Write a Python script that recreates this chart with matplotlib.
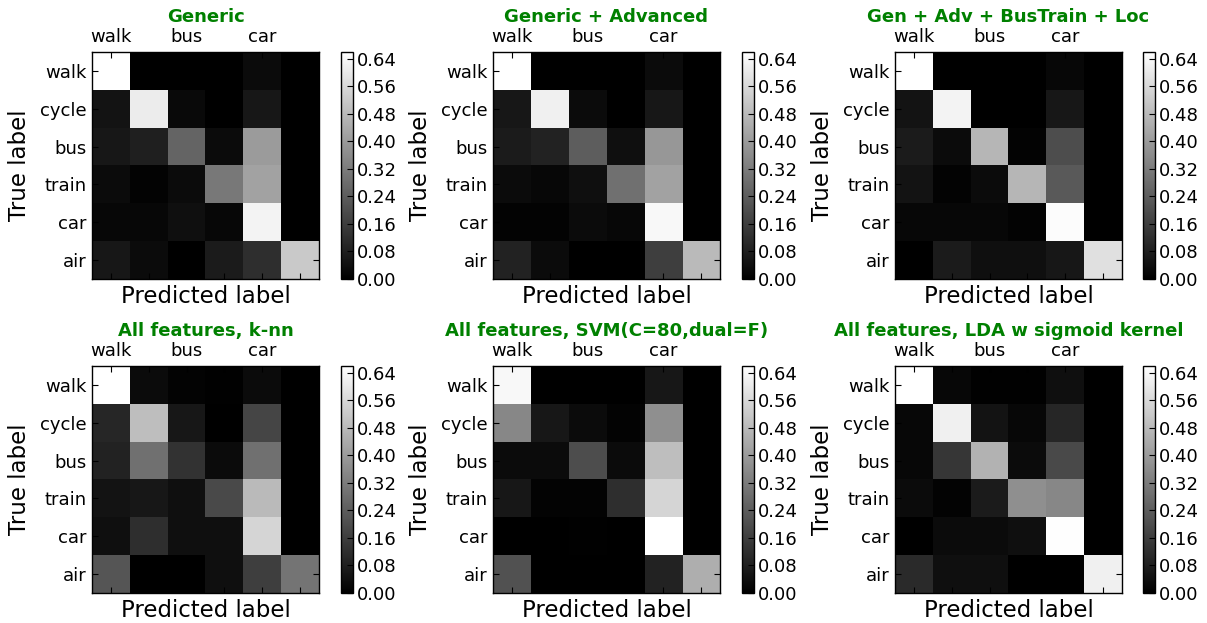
import numpy as np
import matplotlib
matplotlib.use("Agg")
import matplotlib.pyplot as plt

classes = ["walk", "cycle", "bus", "train", "car", "air"]
xtick_labels = ["walk", "", "bus", "", "car", ""]
titles = ["Generic", "Generic + Advanced", "Gen + Adv + BusTrain + Loc",
          "All features, k-nn", "All features, SVM(C=80,dual=F)",
          "All features, LDA w sigmoid kernel"]
cbar_ticks = [0.00, 0.08, 0.16, 0.24, 0.32, 0.40, 0.48, 0.56, 0.64]

cm_generic = [
    [0.66, 0.00, 0.00, 0.00, 0.03, 0.00],
    [0.05, 0.61, 0.025, 0.00, 0.06, 0.00],
    [0.06, 0.08, 0.26, 0.03, 0.40, 0.00],
    [0.03, 0.01, 0.03, 0.31, 0.42, 0.00],
    [0.02, 0.02, 0.04, 0.02, 0.63, 0.00],
    [0.06, 0.03, 0.00, 0.07, 0.12, 0.52],
]
cm_generic_adv = [
    [0.66, 0.00, 0.00, 0.00, 0.03, 0.00],
    [0.06, 0.62, 0.03, 0.00, 0.06, 0.00],
    [0.07, 0.09, 0.24, 0.04, 0.39, 0.00],
    [0.03, 0.02, 0.04, 0.29, 0.42, 0.00],
    [0.01, 0.01, 0.03, 0.02, 0.64, 0.00],
    [0.09, 0.03, 0.00, 0.00, 0.16, 0.48],
]
cm_gen_adv_bt_loc = [
    [0.66, 0.00, 0.00, 0.00, 0.02, 0.00],
    [0.05, 0.63, 0.00, 0.00, 0.06, 0.00],
    [0.07, 0.03, 0.47, 0.01, 0.20, 0.00],
    [0.05, 0.01, 0.03, 0.47, 0.23, 0.00],
    [0.02, 0.02, 0.02, 0.01, 0.65, 0.00],
    [0.00, 0.07, 0.04, 0.04, 0.06, 0.58],
]
cm_knn = [
    [0.66, 0.03, 0.01, 0.005, 0.03, 0.00],
    [0.10, 0.49, 0.06, 0.00, 0.18, 0.00],
    [0.09, 0.29, 0.13, 0.03, 0.29, 0.00],
    [0.05, 0.06, 0.04, 0.19, 0.48, 0.00],
    [0.04, 0.12, 0.04, 0.04, 0.55, 0.00],
    [0.22, 0.00, 0.00, 0.04, 0.16, 0.30],
]
cm_svm = [
    [0.64, 0.00, 0.00, 0.00, 0.06, 0.00],
    [0.35, 0.06, 0.03, 0.01, 0.37, 0.00],
    [0.03, 0.03, 0.20, 0.03, 0.49, 0.00],
    [0.06, 0.01, 0.01, 0.12, 0.55, 0.00],
    [0.00, 0.00, 0.005, 0.00, 0.66, 0.00],
    [0.21, 0.00, 0.00, 0.00, 0.09, 0.45],
]
cm_lda = [
    [0.66, 0.02, 0.005, 0.005, 0.04, 0.00],
    [0.02, 0.62, 0.05, 0.02, 0.10, 0.00],
    [0.02, 0.14, 0.46, 0.03, 0.19, 0.00],
    [0.03, 0.01, 0.07, 0.37, 0.35, 0.00],
    [0.00, 0.03, 0.03, 0.04, 0.655, 0.00],
    [0.11, 0.04, 0.04, 0.00, 0.00, 0.62],
]
matrices = [cm_generic, cm_generic_adv, cm_gen_adv_bt_loc, cm_knn, cm_svm, cm_lda]

W, H = 1207, 623
fig = plt.figure(figsize=(W / 100, H / 100), dpi=100)
fig.patch.set_facecolor("white")

mat_left = [92, 493, 895]
cb_left = [341, 742, 1143]
row_top = [52, 366]
size = 227
cb_w = 12
tick_fs = 13

for i, (cm, title) in enumerate(zip(matrices, titles)):
    r, c = divmod(i, 3)
    x0, y0 = mat_left[c], row_top[r]
    ax = fig.add_axes([x0 / W, 1 - (y0 + size) / H, size / W, size / H])
    im = ax.imshow(np.array(cm), cmap="gray", vmin=0, vmax=0.66,
                   interpolation="nearest", aspect="auto")
    ax.set_xticks(range(len(classes)))
    ax.set_xticklabels(xtick_labels, fontsize=tick_fs)
    ax.set_yticks(range(len(classes)))
    ax.set_yticklabels(classes, fontsize=tick_fs)
    ax.tick_params(axis="both", direction="in", length=4, width=0.8,
                   top=True, bottom=True, left=True, right=True,
                   labeltop=True, labelbottom=False, pad=4, colors="black")
    for sp in ax.spines.values():
        sp.set_linewidth(1.0)
    ax.set_xlabel("Predicted label", fontsize=16.5)
    ax.xaxis.set_label_position("bottom")
    ax.xaxis.set_label_coords(0.5, -0.025)
    ax.set_ylabel("True label", fontsize=16.5)
    ax.yaxis.set_label_coords(-0.27, 0.5)
    fig.text((x0 + size / 2) / W, 1 - (y0 - 35) / H, title, color="green",
             fontsize=13, fontweight="bold", ha="center", va="center")

    cax = fig.add_axes([cb_left[c] / W, 1 - (y0 + size) / H, cb_w / W, size / H])
    cb = fig.colorbar(im, cax=cax, ticks=cbar_ticks)
    cb.ax.set_yticklabels(["%.2f" % t for t in cbar_ticks], fontsize=tick_fs)
    cb.ax.tick_params(direction="in", length=4, width=0.8, pad=3)
    cb.outline.set_linewidth(1.0)

fig.savefig("out.png", dpi=100, facecolor="white")
